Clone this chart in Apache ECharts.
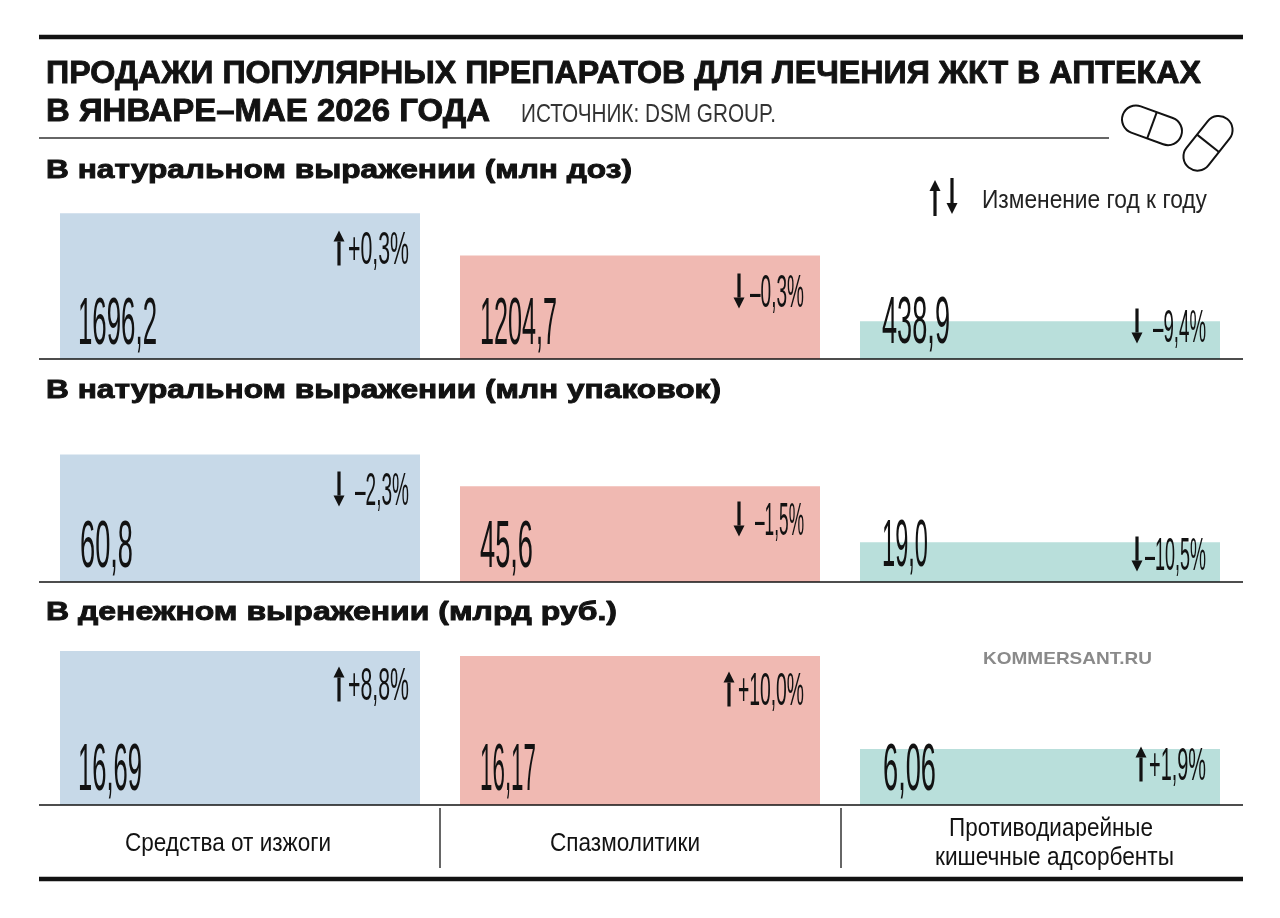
<!DOCTYPE html>
<html><head><meta charset="utf-8">
<style>html,body{margin:0;padding:0;background:#fff}#c{width:1280px;height:918px}</style>
<script src="https://cdn.jsdelivr.net/npm/echarts@6/dist/echarts.min.js"></script>
</head><body><div id="c"></div>
<script>
// ---- data ----
const categories = ['Средства от изжоги', 'Спазмолитики', 'Противодиарейные\nкишечные адсорбенты'];
const dosesValues = [1696.2, 1204.7, 438.9];
const packsValues = [60.8, 45.6, 19.0];
const rubValues = [16.69, 16.17, 6.06];
const dosesChange = [0.3, -0.3, -9.4];
const packsChange = [-2.3, -1.5, -10.5];
const rubChange = [8.8, 10.0, 1.9];
const rowTitles = ['В натуральном выражении (млн доз)', 'В натуральном выражении (млн упаковок)', 'В денежном выражении (млрд руб.)'];
const titleLines = ['ПРОДАЖИ ПОПУЛЯРНЫХ ПРЕПАРАТОВ ДЛЯ ЛЕЧЕНИЯ ЖКТ В АПТЕКАХ', 'В ЯНВАРЕ–МАЕ 2026 ГОДА'];
const sourceText = 'ИСТОЧНИК: DSM GROUP.';
const legendText = 'Изменение год к году';
const brandText = 'KOMMERSANT.RU';
const decimals = [1, 1, 2];

// ---- style and layout ----
const colors = ['#c7d9e8', '#f0b9b2', '#b9dfdb'];
const ink = '#121212';
const HEAVY = '"Liberation Sans"', NARROW = '"Liberation Sans"';
const rows = [
  { values: dosesValues, change: dosesChange, top: 189, height: 170, max: 1980, titleY: 171,
    numX: [78, 480, 882], numW: [79, 77, 68], numY: [326, 326, 325],
    chgX: [348, 750, 1153], chgW: [61, 54, 53], chgY: [251, 294, 329], arrowX: [339, 739, 1137] },
  { values: packsValues, change: packsChange, top: 432, height: 150, max: 71.5, titleY: 391,
    numX: [80, 480, 882], numW: [53, 53, 46], numY: [549, 549, 548],
    chgX: [355, 755, 1145], chgW: [54, 49, 61], chgY: [492, 522, 557], arrowX: [339, 739, 1137] },
  { values: rubValues, change: rubChange, top: 639, height: 166, max: 18, titleY: 613,
    numX: [78, 480, 883], numW: [64, 56, 53], numY: [772, 772, 772],
    chgX: [348, 738, 1149], chgW: [61, 66, 57], chgY: [687, 692, 767], arrowX: [339, 729, 1141] }
];

const ctx = document.createElement('canvas').getContext('2d');
function fit(text, font, w) { ctx.font = font; return w / ctx.measureText(text).width; }
function txt(text, x, y, font, sx, color, extra) {
  return { type: 'text', z: 100, x, y, scaleX: sx, silent: true,
    style: Object.assign({ text, font, fill: color || ink, textAlign: 'left', textVerticalAlign: 'middle', textBaseline: 'middle' }, extra || {}) };
}
function fitTxt(text, x, w, y, font, color, extra) { return txt(text, x, y, font, fit(text, font, w), color, extra); }
function line(x1, y1, x2, y2, lw, color) {
  return { type: 'line', z: 100, silent: true, shape: { x1, y1, x2, y2 }, style: { stroke: color || ink, lineWidth: lw } };
}
function arrow(x, yc, up, h) {
  const top = yc - h / 2, bot = yc + h / 2, dir = up ? 1 : -1, tip = up ? top : bot, base = tip + dir * 11;
  return [
    line(x, base, x, up ? bot : top, 3.2),
    { type: 'polygon', z: 100, silent: true, shape: { points: [[x, tip], [x - 5.5, base], [x + 5.5, base]] }, style: { fill: ink } }
  ];
}
function pill(cx, cy, len, wid, rot) {
  return { type: 'group', x: cx, y: cy, rotation: rot, silent: true, children: [
    { type: 'rect', z: 100, shape: { x: -len / 2, y: -wid / 2, width: len, height: wid, r: wid / 2 }, style: { fill: 'none', stroke: ink, lineWidth: 2 } },
    line(0, -wid / 2, 0, wid / 2, 2)
  ] };
}

const g = [];
const titleFont = 'bold 32px ' + HEAVY, subFont = 'bold 25px ' + HEAVY, labFont = '26px ' + NARROW;
const heavyStroke = { stroke: ink, lineWidth: 0.9 };
g.push(line(39, 37, 1243, 37, 4.5), line(39, 138, 1109, 138, 1.5, '#333'), line(39, 879, 1243, 879, 4.5));
g.push(fitTxt(titleLines[0], 46, 1155, 74, titleFont, ink, heavyStroke));
g.push(fitTxt(titleLines[1], 46, 444, 112, titleFont, ink, heavyStroke));
g.push(fitTxt(sourceText, 521, 255, 115, labFont, '#333'));
g.push(fitTxt(legendText, 982, 225, 201, labFont, '#222'));
g.push(fitTxt(brandText, 983, 169, 659, 'bold 17px ' + NARROW, '#8a8a8a'));
g.push(pill(1152, 125.3, 62, 28, -0.35), pill(1208, 143.3, 62, 28, 0.9));
g.push(...arrow(935, 198, true, 36), ...arrow(952, 196, false, 36));

g.push(fitTxt(categories[0], 125, 206, 844, labFont));
g.push(fitTxt(categories[1], 550, 150, 844, labFont));
const c3 = categories[2].split('\n');
g.push(fitTxt(c3[0], 949, 204, 829, labFont), fitTxt(c3[1], 935, 239, 858, labFont));
g.push(line(440, 808, 440, 868, 1.5, '#333'), line(841, 808, 841, 868, 1.5, '#333'));

const numFont = '67px ' + NARROW, chgFont = '47px ' + NARROW;
rows.forEach((r, i) => {
  g.push(fitTxt(rowTitles[i], 46, [586, 675, 571][i], r.titleY, subFont, ink, heavyStroke));
  g.push(line(39, r.top + r.height, 1243, r.top + r.height, 1.5, ink));
  r.values.forEach((v, j) => {
    g.push(fitTxt(v.toFixed(decimals[i]).replace('.', ','), r.numX[j], r.numW[j], r.numY[j], numFont));
    const c = r.change[j], s = (c >= 0 ? '+' : '–') + Math.abs(c).toFixed(1).replace('.', ',') + '%';
    g.push(fitTxt(s, r.chgX[j], r.chgW[j], r.chgY[j], chgFont));
    g.push(...arrow(r.arrowX[j], r.chgY[j] - 3, c >= 0, 35));
  });
});

const option = {
  animation: false,
  backgroundColor: '#fff',
  grid: rows.map(r => ({ left: 40, width: 1200, top: r.top, height: r.height })),
  xAxis: rows.map((r, i) => ({ type: 'category', gridIndex: i, data: categories, axisLine: { show: false }, axisTick: { show: false }, axisLabel: { show: false } })),
  yAxis: rows.map((r, i) => ({ type: 'value', gridIndex: i, min: 0, max: r.max, show: false })),
  series: rows.map((r, i) => ({
    type: 'bar', xAxisIndex: i, yAxisIndex: i, barWidth: 360, silent: true,
    data: r.values.map((v, j) => ({ value: v, itemStyle: { color: colors[j] } }))
  })),
  graphic: g
};
echarts.init(document.getElementById('c'), null, { renderer: 'canvas' }).setOption(option);
</script></body></html>
